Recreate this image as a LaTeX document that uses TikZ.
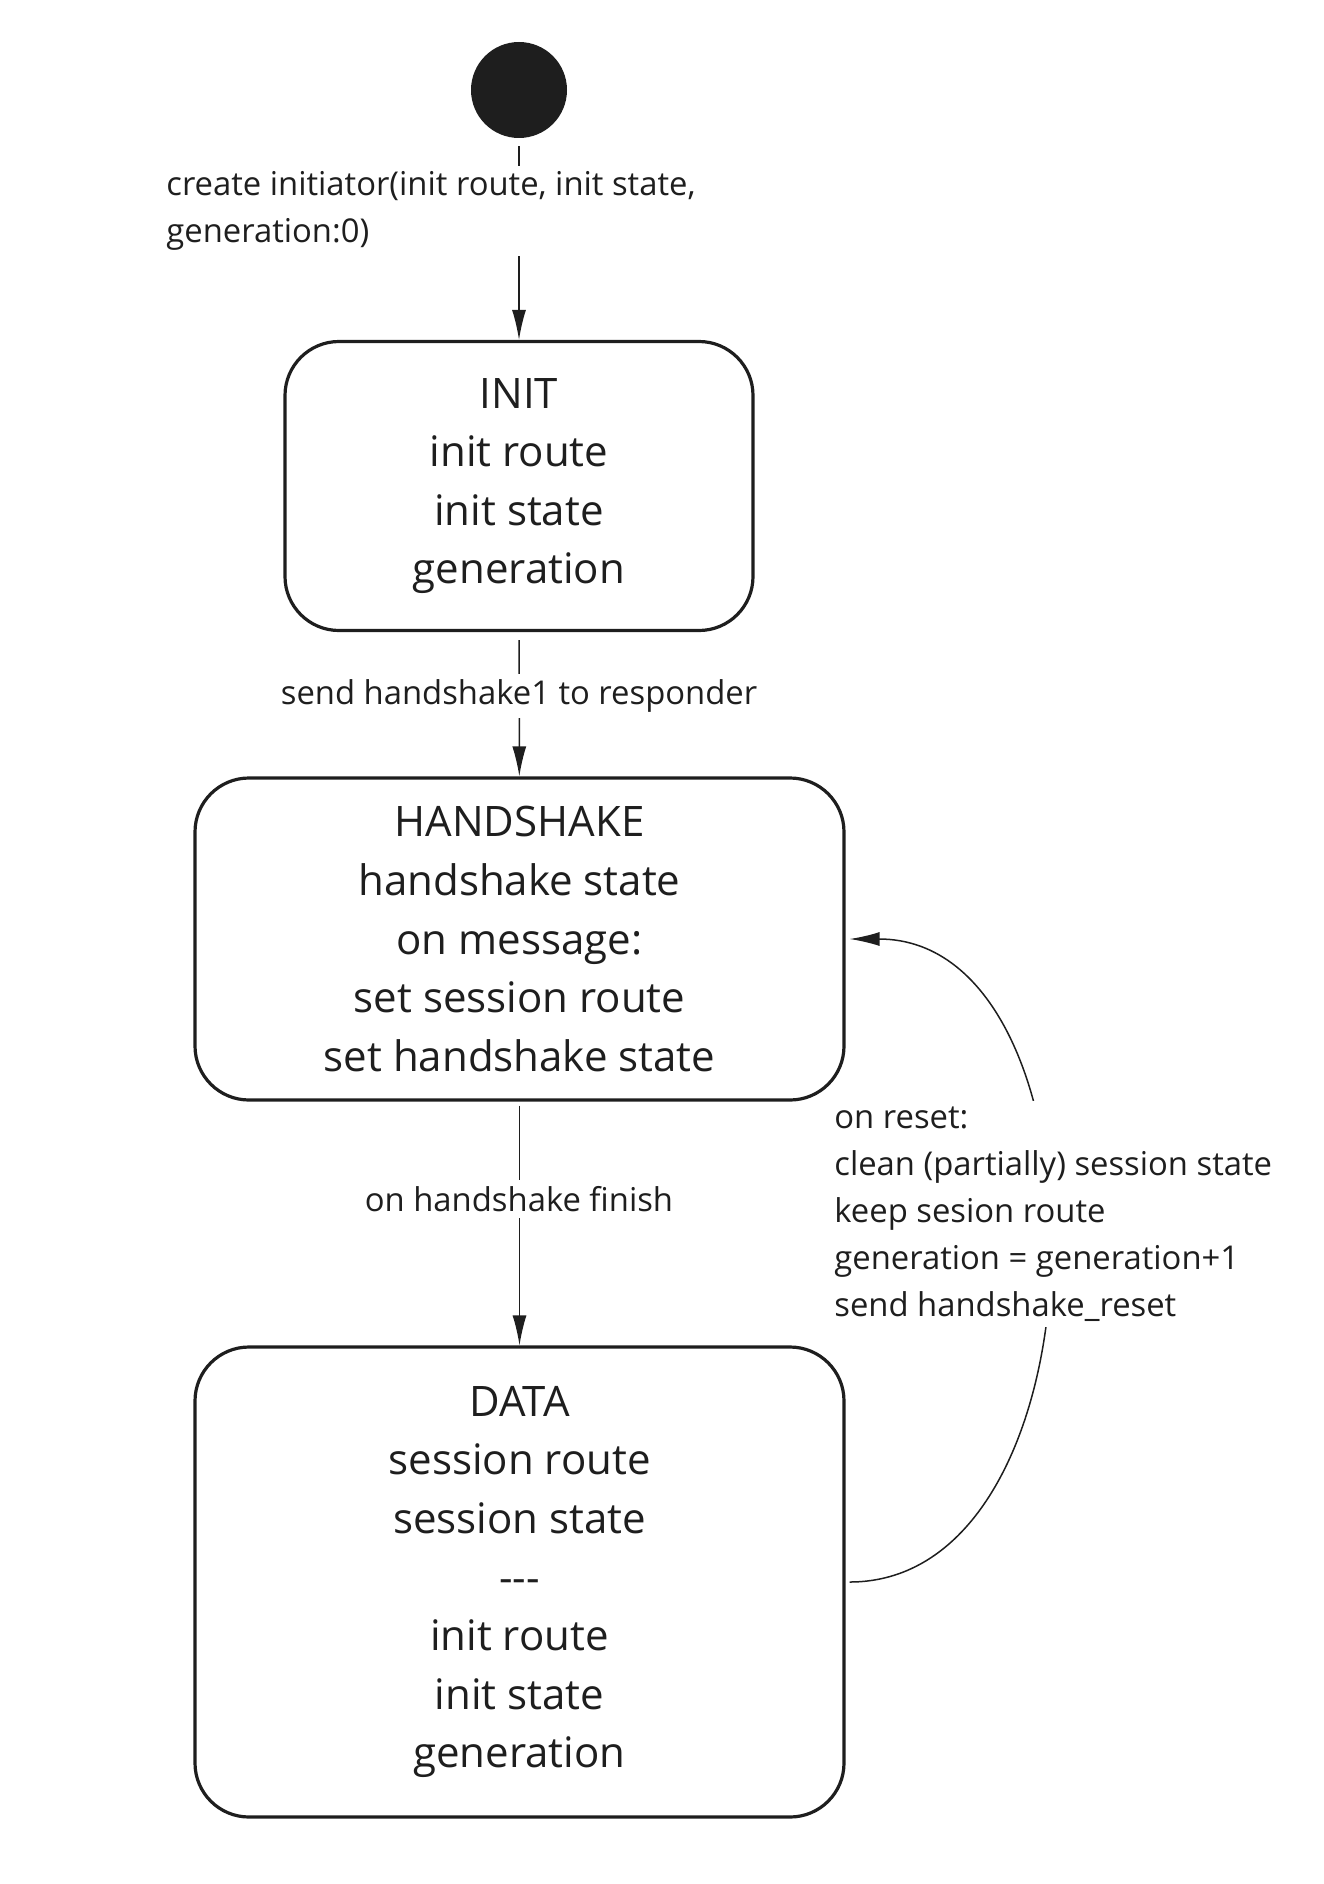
\documentclass[tikz,border=0pt]{standalone}
\usepackage{fontspec}
\setmainfont{Open Sans}
\usetikzlibrary{arrows.meta}
\definecolor{ink}{HTML}{1E1E1E}

\begin{document}
\begin{tikzpicture}[x=0.5pt, y=-0.5pt,
  stbox/.style={draw=ink, line width=1.6pt, rounded corners=27pt, align=center, text=ink, inner sep=0pt, font=\fontsize{21}{29.3}\selectfont},
  lbl/.style={fill=white, text=ink, inner sep=3pt, font=\fontsize{16.4}{23.5}\selectfont},
  tr/.style={draw=ink, line width=0.75pt, -{Latex[length=15pt,width=7pt]}}]
\useasboundingbox (0,0) rectangle (1323,1884);

\node[circle, fill=ink, minimum size=48pt, inner sep=0pt] (start) at (519,90){};

\node[stbox, minimum width=234pt, minimum height=144.5pt] (init) at (519,486){INIT\\init route\\init state\\generation};
\node[stbox, minimum width=324.5pt, minimum height=161pt] (hs) at (519.5,939){HANDSHAKE\\handshake state\\on message:\\set session route\\set handshake state};
\node[stbox, minimum width=324.5pt, minimum height=235pt] (data) at (519.5,1582){DATA\\session route\\session state\\-{}-{}-\\init route\\init state\\generation};

\draw[tr, shorten <=4pt] (start) -- (init);
\node[lbl, anchor=west, align=left] (l0) at (160,211){create initiator(init route, init state,\\generation:0)};

\draw[tr, shorten <=4pt] (init) -- (hs);
\node[lbl] (l1) at (519,696){send handshake1 to responder};

\draw[tr, shorten <=2pt] (hs) -- (data);
\node[lbl] (l2) at (519,1199){on handshake finish};

\draw[tr, shorten <=2pt, shorten >=2pt] (data.east) .. controls +(266,0) and +(270,0) .. (hs.east);
\node[lbl, anchor=west, align=left] (l3) at (828,1214){on reset:\\clean (partially) session state\\keep sesion route\\generation = generation+1\\send handshake\_reset};

\end{tikzpicture}
\end{document}
